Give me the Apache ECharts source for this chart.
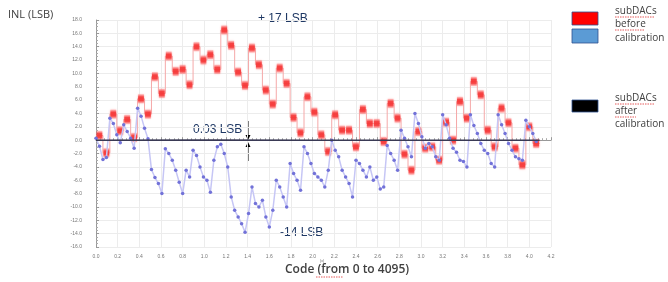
<!DOCTYPE html>
<html>
<head>
<meta charset="utf-8">
<script src="https://cdn.jsdelivr.net/npm/echarts@6/dist/echarts.min.js"></script>
<style>
  html, body { margin: 0; padding: 0; background: #fff; }
  #main { width: 668px; height: 282px; }
</style>
</head>
<body>
<div id="main"></div>
<script>
// red: one level per 64-code segment (subDACs before calibration)
var segWidth = 64;
var redLevels = [
  0.7, -1.9, 3.9, 1.4, 3.1, 0.4, 6.2, 3.9,
  9.5, 7.0, 12.6, 10.3, 10.6, 8.3, 14.0, 12.0,
  12.8, 10.6, 16.5, 14.2, 10.2, 8.2, 13.8, 11.3,
  7.5, 5.4, 10.8, 8.5, 3.4, 1.1, 6.5, 4.2,
  0.8, -1.7, 3.8, 1.5, 1.5, -1.0, 4.6, 2.5,
  2.5, -0.2, 5.5, 3.3, -2.1, -4.5, 1.3, -1.2,
  -1.0, -3.0, 2.7, 0.0, 5.8, 3.3, 8.8, 6.8,
  1.5, -1.0, 4.8, 2.6, -1.2, -3.7, 2.0, -0.5
];
// blue: one point every 32 codes
var blueStep = 32;
var blueValues = [
  0.3, -0.9, -2.9, -2.6, 3.3, 2.5, 0.8, -0.4, 2.3, 1.3, 0.3, -1.2, 4.8, 3.6, 1.8, 0.2,
  -4.4, -5.6, -6.5, -8.0, -1.3, -2.0, -3.0, -4.5, -6.3, -8.0, -4.5, -5.5, -1.5, -2.3, -4.0, -5.5,
  -6.0, -7.8, -3.0, -1.0, -0.6, -2.0, -4.0, -8.5, -10.5, -11.5, -12.5, -13.8, -11.0, -7.0, -9.5, -10.0,
  -9.0, -11.5, -13.0, -10.5, -6.0, -7.0, -8.5, -10.0, -3.5, -5.0, -6.0, -7.5, -1.0, -2.0, -3.5, -5.0,
  -5.5, -6.0, -7.0, -4.5, 0.0, -1.5, -2.5, -4.5, -5.5, -6.5, -8.5, -3.0, -3.5, -4.5, -5.5, -4.0,
  -6.0, -5.5, -7.3, -7.0, -0.8, -2.0, -3.0, -4.5, 1.5, 0.3, -1.0, -2.5, 4.0, 2.5, 0.5, -1.2,
  -0.5, -1.0, -2.5, -3.0, 3.8, 2.3, 0.3, -1.2, -1.8, -3.0, -3.2, -4.0, 3.8, 2.2, 1.0, -0.5,
  -1.5, -2.0, -3.5, -4.0, 3.8, 2.3, 1.0, -0.5, -1.5, -2.5, -2.8, -3.0, 3.0, 2.0, 1.0, -0.2
];
// black: after calibration
var afterCodes = [0, 1024, 2048, 3072, 4095];
var afterValues = [0.0, 0.03, 0.0, -0.02, 0.0];

var xTicks = ['0.0','0.2','0.4','0.6','0.8','1.0','1.2','1.4','1.6','1.8','2.0','2.2','2.4','2.6','2.8','3.0','3.2','3.4','3.6','3.8','4.0','4.2'];

var redStep = redLevels.map(function (v, i) { return [i * segWidth, v]; });
redStep.push([4095, redLevels[redLevels.length - 1]]);
var redBlocks = redLevels.map(function (v, i) { return [i * segWidth, (i + 1) * segWidth - 1, v]; });
var bluePts = blueValues.map(function (v, i) { return [i * blueStep, v]; });
var afterPts = afterCodes.map(function (c, i) { return [c, afterValues[i]]; });

var chart = echarts.init(document.getElementById('main'));
var txt = '#404040';
var navy = '#1f3864';

var blobFill = new echarts.graphic.LinearGradient(0, 0, 0, 1, [
  { offset: 0, color: 'rgba(255,140,140,0.35)' },
  { offset: 0.3, color: 'rgba(245,50,50,0.85)' },
  { offset: 0.7, color: 'rgba(245,50,50,0.85)' },
  { offset: 1, color: 'rgba(255,140,140,0.35)' }
]);

chart.setOption({
  animation: false,
  grid: { left: 96, right: 117, top: 20, bottom: 35 },
  xAxis: {
    type: 'value', min: 0, max: 4200, interval: 200, offset: 3,
    axisLine: { lineStyle: { color: '#999' } },
    axisTick: { inside: true, length: 3, lineStyle: { color: '#999' } },
    minorTick: { show: true, splitNumber: 5, length: 2, lineStyle: { color: '#aaa' } },
    axisLabel: {
      fontSize: 5, color: '#777', margin: 4,
      formatter: function (v) { return xTicks[Math.round(v / 200)]; }
    },
    splitLine: { show: true, lineStyle: { color: '#ececec' } }
  },
  yAxis: {
    type: 'value', min: -16, max: 18, interval: 2, offset: 4,
    axisLine: { show: true, lineStyle: { color: '#999' } },
    axisTick: { show: true, inside: true, length: 3, lineStyle: { color: '#999' } },
    minorTick: { show: true, splitNumber: 4, length: 2, lineStyle: { color: '#aaa' } },
    axisLabel: { fontSize: 5, color: '#777', margin: 10, formatter: function (v) { return v.toFixed(1); } },
    splitLine: { show: true, lineStyle: { color: '#ececec' } }
  },
  series: [
    {
      name: 'red-step', type: 'line', step: 'end', data: redStep, symbol: 'none',
      lineStyle: { color: '#f5a8a8', width: 1 }, z: 2
    },
    {
      name: 'red', type: 'custom', data: redBlocks, z: 3,
      renderItem: function (params, api) {
        var p0 = api.coord([api.value(0), api.value(2) + 0.7]);
        var p1 = api.coord([api.value(1), api.value(2) - 0.7]);
        return {
          type: 'rect',
          shape: { x: p0[0] + 0.5, y: p0[1], width: p1[0] - p0[0] - 1, height: p1[1] - p0[1] },
          style: { fill: blobFill, shadowBlur: 2, shadowColor: 'rgba(255,80,80,0.7)' }
        };
      }
    },
    {
      name: 'blue', type: 'line', data: bluePts, z: 4,
      symbol: 'circle', symbolSize: 3.5,
      lineStyle: { color: '#c6c6f5', width: 1.5 },
      itemStyle: { color: '#7272d8' }
    },
    {
      name: 'after', type: 'line', data: afterPts, symbol: 'none', z: 5,
      lineStyle: { color: '#3a3a55', width: 1.5 }
    }
  ],
  graphic: [
    { type: 'text', left: 8, top: 9, style: { text: 'INL (LSB)', fontSize: 11, fontFamily: 'Open Sans', fill: txt } },
    { type: 'text', left: 285, top: 264, style: { text: 'Code (from 0 to 4095)', fontSize: 12, fontWeight: 600, fontFamily: 'Open Sans', fill: txt } },
    { type: 'text', left: 258, top: 13, style: { text: '+ 17 LSB', fontSize: 12, fontFamily: 'Liberation Sans', fill: navy } },
    { type: 'text', left: 193, top: 124, style: { text: '0.03 LSB', fontSize: 12, fontFamily: 'Liberation Sans', fill: navy } },
    { type: 'text', left: 280, top: 227, style: { text: '-14 LSB', fontSize: 12, fontFamily: 'Liberation Sans', fill: navy } },
    { type: 'line', shape: { x1: 248, y1: 121, x2: 248, y2: 137 }, style: { stroke: '#000', lineWidth: 1 } },
    { type: 'polygon', shape: { points: [[245.5, 135], [250.5, 135], [248, 140]] }, style: { fill: '#000' } },
    { type: 'line', shape: { x1: 248, y1: 161, x2: 248, y2: 145 }, style: { stroke: '#000', lineWidth: 1 } },
    { type: 'polygon', shape: { points: [[245.5, 147], [250.5, 147], [248, 142]] }, style: { fill: '#000' } },
    // legend
    { type: 'rect', shape: { x: 572, y: 12, width: 26, height: 13 }, style: { fill: '#ff0000', stroke: '#2f528f', lineWidth: 0.8 } },
    { type: 'rect', shape: { x: 572, y: 29, width: 26, height: 14 }, style: { fill: '#5b9bd5', stroke: '#2f528f', lineWidth: 0.8 } },
    { type: 'rect', shape: { x: 572, y: 100, width: 26, height: 12 }, style: { fill: '#000000', stroke: '#2f528f', lineWidth: 0.8 } },
    { type: 'text', left: 615, top: 4, style: { text: 'subDACs\nbefore\ncalibration', fontSize: 10, lineHeight: 13.5, fontFamily: 'Open Sans', fill: txt } },
    { type: 'text', left: 615, top: 92, style: { text: 'subDACs\nafter\ncalibration', fontSize: 10, lineHeight: 12.8, fontFamily: 'Open Sans', fill: txt } },
    { type: 'line', shape: { x1: 615, y1: 17, x2: 654, y2: 17 }, style: { stroke: '#e03030', lineWidth: 0.8, lineDash: [1.5, 1] } },
    { type: 'line', shape: { x1: 615, y1: 30, x2: 645, y2: 30 }, style: { stroke: '#e03030', lineWidth: 0.8, lineDash: [1.5, 1] } },
    { type: 'line', shape: { x1: 615, y1: 104, x2: 654, y2: 104 }, style: { stroke: '#e03030', lineWidth: 0.8, lineDash: [1.5, 1] } },
    { type: 'line', shape: { x1: 615, y1: 117, x2: 636, y2: 117 }, style: { stroke: '#e03030', lineWidth: 0.8, lineDash: [1.5, 1] } },
    { type: 'line', shape: { x1: 316, y1: 277, x2: 343, y2: 277 }, style: { stroke: '#e03030', lineWidth: 0.8, lineDash: [1.5, 1] } },
    { type: 'text', left: 320, top: 259, style: { text: '(x)', fontSize: 3.5, fill: '#666' } }
  ]
});
</script>
</body>
</html>
